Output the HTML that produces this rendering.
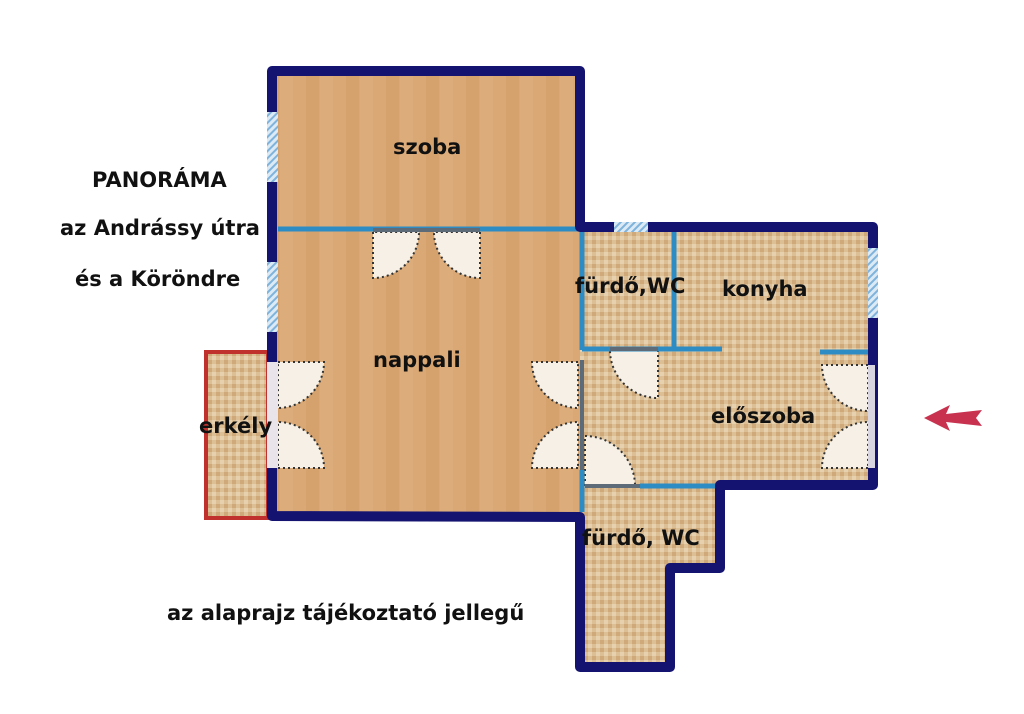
<!DOCTYPE html>
<html><head><meta charset="utf-8"><style>
html,body{margin:0;padding:0;background:#fff;}
svg{display:block}
text{font-family:"DejaVu Sans","Liberation Sans",sans-serif;font-weight:bold;font-size:21px;fill:#111}
</style></head><body>
<svg width="1024" height="714" viewBox="0 0 1024 714" xmlns="http://www.w3.org/2000/svg">
<defs>
<pattern id="tile" width="8" height="8" patternUnits="userSpaceOnUse">
<rect width="8" height="8" fill="#dcbf95"/>
<rect width="4" height="4" fill="#cfa979"/>
<rect x="4" y="4" width="4" height="4" fill="#e6d0ad"/>
</pattern>
<pattern id="wood" width="40" height="120" patternUnits="userSpaceOnUse">
<rect width="40" height="120" fill="#d9a874"/>
<rect x="0" width="13" height="120" fill="#dcac7a"/>
<rect x="26" width="13" height="120" fill="#d5a26d"/>
</pattern>
<pattern id="win" width="5" height="5" patternUnits="userSpaceOnUse" patternTransform="rotate(45)">
<rect width="5" height="5" fill="#dbeaf5"/><rect width="2" height="5" fill="#7fb3dc"/>
</pattern>
</defs>
<rect x="272" y="70" width="308" height="446" fill="url(#wood)"/>
<rect x="580" y="228" width="293" height="256" fill="url(#tile)"/>
<rect x="580" y="484" width="140" height="84" fill="url(#tile)"/>
<rect x="580" y="568" width="90" height="98" fill="url(#tile)"/>
<rect x="207" y="353" width="60" height="164" fill="url(#tile)"/>
<rect x="206" y="352" width="62" height="166" fill="none" stroke="#c0302c" stroke-width="4"/>
<g fill="#f6f0e6" stroke="#333" stroke-width="2" stroke-dasharray="2,3">
<path d="M373,232 L373,278 A46,46 0 0 0 419,232 Z"/>
<path d="M480,232 L480,278 A46,46 0 0 1 434,232 Z"/>
<path d="M278,362 L324,362 A46,46 0 0 1 278,408 Z"/>
<path d="M278,468 L324,468 A46,46 0 0 0 278,422 Z"/>
<path d="M578,362 L532,362 A46,46 0 0 0 578,408 Z"/>
<path d="M578,468 L532,468 A46,46 0 0 1 578,422 Z"/>
<path d="M658,350 L658,398 A48,48 0 0 1 610,350 Z"/>
<path d="M585,486 L585,436 A50,50 0 0 1 635,486 Z"/>
<path d="M868,365 L822,365 A46,46 0 0 0 868,411 Z"/>
<path d="M868,468 L822,468 A46,46 0 0 1 868,422 Z"/>
</g>
<g stroke="#2e8cc4" stroke-width="5" fill="none">
<line x1="278" y1="229" x2="580" y2="229"/>
<line x1="582" y1="232" x2="582" y2="350"/>
<line x1="674" y1="232" x2="674" y2="350"/>
<line x1="582" y1="349" x2="722" y2="349"/>
<line x1="820" y1="352" x2="868" y2="352"/>
<line x1="582" y1="470" x2="582" y2="512"/>
<line x1="640" y1="486" x2="716" y2="486"/>
</g>
<g stroke="#5d6b78" stroke-width="4" fill="none">
<line x1="582" y1="360" x2="582" y2="470"/>
<line x1="585" y1="486" x2="640" y2="486"/>
<line x1="480" y1="230" x2="373" y2="230"/>
<line x1="610" y1="349" x2="658" y2="349"/>
</g>
<path d="M272,516 L272,71 L580,71 L580,227 L873,227 L873,485 L720,485 L720,568 L670,568 L670,667 L580,667 L580,517 Z" fill="none" stroke="#141470" stroke-width="10" stroke-linejoin="round"/>
<rect x="267" y="112" width="11" height="70" fill="url(#win)"/>
<rect x="267" y="262" width="11" height="70" fill="url(#win)"/>
<rect x="614" y="222" width="34" height="10" fill="url(#win)"/>
<rect x="868" y="248" width="10" height="70" fill="url(#win)"/>
<rect x="267" y="362" width="11" height="106" fill="#e8e4ea"/>
<rect x="868" y="365" width="7" height="103" fill="#d8d4e0"/>
<path d="M924,418 L950,405 L946,414 L982,410 L976,418 L982,426 L946,422 L950,431 Z" fill="#c8324f"/>
<text x="393" y="154">szoba</text>
<text x="92" y="187">PANORÁMA</text>
<text x="60" y="235">az Andrássy útra</text>
<text x="75" y="286">és a Köröndre</text>
<text x="575" y="293">fürdő,WC</text>
<text x="722" y="296">konyha</text>
<text x="373" y="367">nappali</text>
<text x="711" y="423">előszoba</text>
<text x="199" y="433">erkély</text>
<text x="582" y="545">fürdő, WC</text>
<text x="167" y="620">az alaprajz tájékoztató jellegű</text>
</svg>
</body></html>
